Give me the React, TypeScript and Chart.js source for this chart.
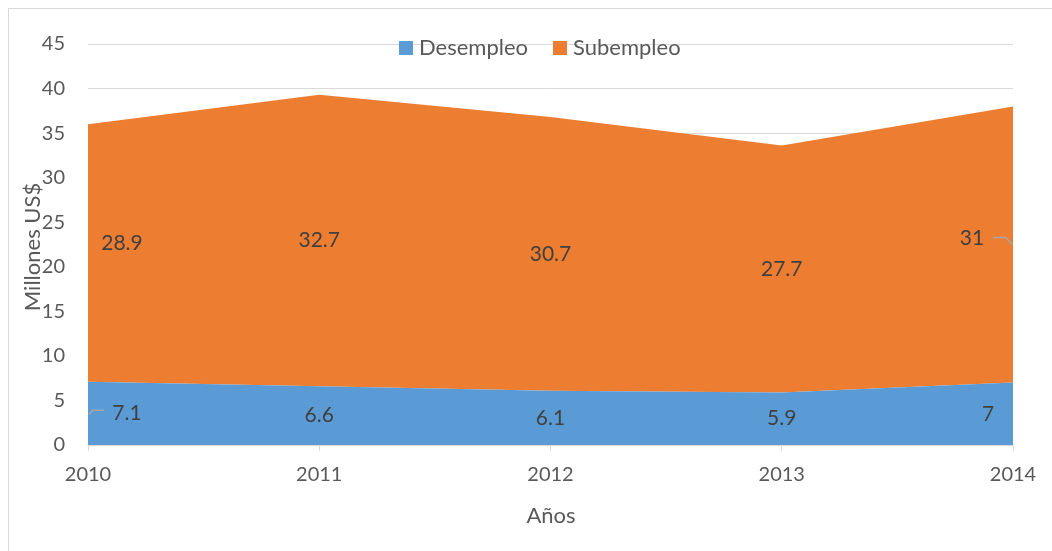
import React, { useEffect, useRef } from "react";
import { Chart, registerables } from "chart.js";
Chart.register(...registerables);

const years = ["2010", "2011", "2012", "2013", "2014"];
const desempleo = [7.1, 6.6, 6.1, 5.9, 7];
const subempleo = [28.9, 32.7, 30.7, 27.7, 31];
const seriesNames = ["Desempleo", "Subempleo"];
const seriesColors = ["#5B9BD5", "#ED7D31"];
const yTitle = "Millones US$";
const xTitle = "Años";
const yMin = 0;
const yMax = 45;
const yStep = 5;

const FONT = "Lato, 'Noto Sans', sans-serif";
const W = 1043;
const H = 542;

// label offsets (pixels) for labels Excel moved off-centre
const labelOffsets: Record<string, [number, number]> = {
  "0-0": [39, 0],
  "0-4": [-25, 0],
  "1-0": [34, -10],
  "1-4": [-41, -6],
};

const extrasPlugin = {
  id: "extras",
  afterDatasetsDraw(chart: any) {
    const ctx = chart.ctx;
    const xs = chart.scales.x;
    const ys = chart.scales.y;
    ctx.save();
    ctx.font = `21px ${FONT}`;
    ctx.fillStyle = "#404040";
    ctx.textAlign = "center";
    ctx.textBaseline = "middle";
    const sets = [desempleo, subempleo];
    sets.forEach((vals, di) => {
      vals.forEach((v, i) => {
        const base = di === 0 ? 0 : desempleo[i];
        const ax = xs.getPixelForValue(i);
        const ay = ys.getPixelForValue(base + v / 2);
        const off = labelOffsets[`${di}-${i}`] || [0, 0];
        ctx.fillStyle = "#404040";
        ctx.fillText(String(v), ax + off[0], ay + off[1]);
        if (di === 0 && i === 0) {
          ctx.strokeStyle = "#A6A6A6";
          ctx.lineWidth = 1.5;
          ctx.beginPath();
          ctx.moveTo(ax + 1, ay + 1);
          ctx.lineTo(ax + 5, ay - 3);
          ctx.lineTo(ax + 16, ay - 3);
          ctx.stroke();
        }
        if (di === 1 && i === vals.length - 1) {
          ctx.strokeStyle = "#A6A6A6";
          ctx.lineWidth = 1.5;
          ctx.beginPath();
          ctx.moveTo(ax - 1, ay);
          ctx.lineTo(ax - 7, ay - 7);
          ctx.lineTo(ax - 20, ay - 7);
          ctx.stroke();
        }
      });
    });

    // legend
    ctx.textAlign = "left";
    ctx.font = `22px ${FONT}`;
    const ly = 39;
    const lxs = [390, 544];
    seriesNames.forEach((name, i) => {
      const lx = lxs[i];
      ctx.fillStyle = seriesColors[i];
      ctx.fillRect(lx, ly - 7, 14, 14);
      ctx.fillStyle = "#595959";
      ctx.fillText(name, lx + 20, ly);
    });

    // axis titles
    ctx.fillStyle = "#595959";
    ctx.textAlign = "center";
    ctx.font = `22px ${FONT}`;
    ctx.fillText(xTitle, 542, 507);
    ctx.save();
    ctx.translate(24, 238);
    ctx.rotate(-Math.PI / 2);
    ctx.fillText(yTitle, 0, 0);
    ctx.restore();
    ctx.restore();
  },
};

export default function App() {
  const ref = useRef<HTMLCanvasElement>(null);
  useEffect(() => {
    if (!ref.current) return;
    const chart = new Chart(ref.current, {
      type: "line",
      data: {
        labels: years,
        datasets: [
          {
            label: seriesNames[0],
            data: desempleo,
            backgroundColor: seriesColors[0],
            borderColor: seriesColors[0],
            borderWidth: 0,
            pointRadius: 0,
            fill: "origin",
            tension: 0,
          },
          {
            label: seriesNames[1],
            data: subempleo,
            backgroundColor: seriesColors[1],
            borderColor: seriesColors[1],
            borderWidth: 0,
            pointRadius: 0,
            fill: "-1",
            tension: 0,
          },
        ],
      },
      options: {
        responsive: false,
        animation: false,
        layout: { padding: { left: 0, right: 39, top: 33, bottom: 0 } },
        plugins: {
          legend: { display: false },
          tooltip: { enabled: false },
        },
        scales: {
          x: {
            offset: false,
            grid: {
              drawOnChartArea: false,
              drawTicks: true,
              tickLength: 6,
              color: "#D9D9D9",
            },
            border: { display: true, color: "#D9D9D9", width: 1 },
            ticks: {
              color: "#595959",
              font: { family: FONT, size: 20 },
              padding: 12,
              maxRotation: 0,
            },
            afterFit: (s: any) => {
              s.height = 106;
            },
          },
          y: {
            stacked: true,
            min: yMin,
            max: yMax,
            ticks: {
              stepSize: yStep,
              color: "#595959",
              font: { family: FONT, size: 20 },
              padding: 23,
            },
            grid: { color: "#D9D9D9", lineWidth: 1, drawTicks: false },
            border: { display: false },
            afterFit: (s: any) => {
              s.width = 79;
            },
          },
        },
      },
      plugins: [extrasPlugin],
    });
    return () => chart.destroy();
  }, []);
  return (
    <div
      style={{
        position: "fixed",
        left: 8,
        top: 8,
        width: W,
        height: H,
        borderLeft: "1px solid #D9D9D9",
        borderTop: "1px solid #D9D9D9",
        background: "#fff",
      }}
    >
      <canvas ref={ref} width={W} height={H} style={{ width: W, height: H, display: "block" }} />
    </div>
  );
}
